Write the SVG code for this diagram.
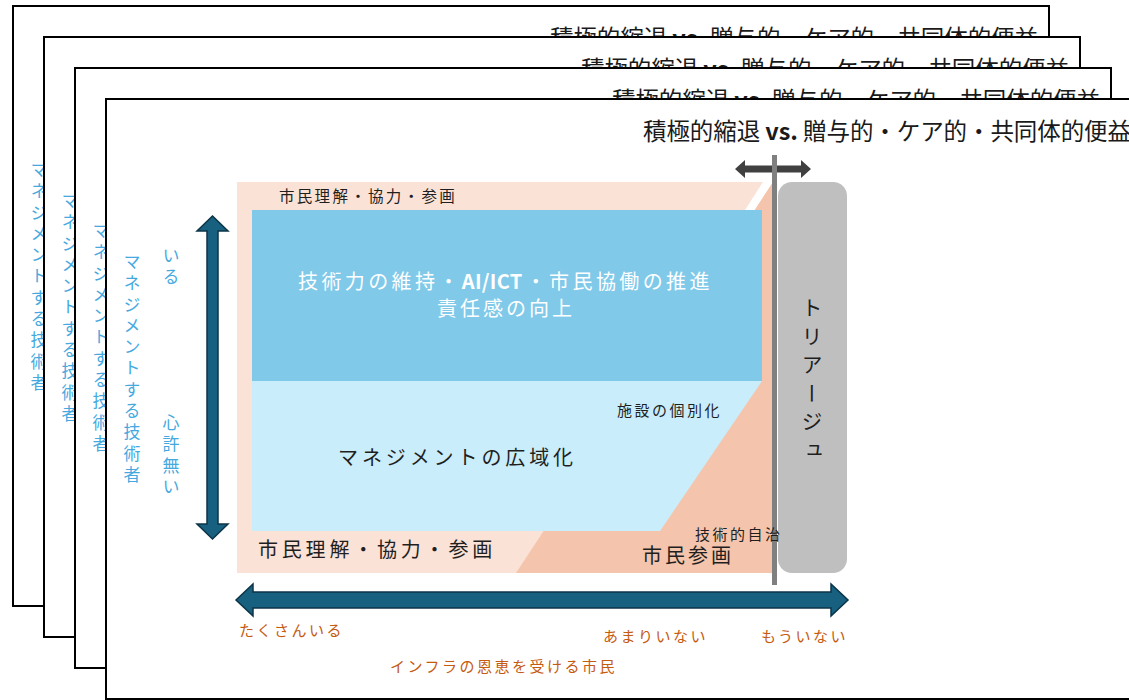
<svg xmlns="http://www.w3.org/2000/svg" width="1129" height="700" viewBox="0 0 1129 700">
<style>
  text { font-family: "Noto Sans CJK JP", "Noto Sans", sans-serif; }
  .frame { fill: #ffffff; stroke: #000000; stroke-width: 2; }
  .title { font-size: 23.5px; fill: #1a1a1a; }
  .vt { font-size: 17px; fill: #45A9DF; writing-mode: vertical-rl; letter-spacing: 4.3px; }
  .dark { fill: #1f1f1f; }
  .orange { font-size: 15px; fill: #C55A11; letter-spacing: 2.5px; }
  .bigarrow { fill: #17607F; stroke: #0C3447; stroke-width: 1.5; stroke-linejoin: miter; }
</style>

<!-- Stacked frames (back to front) -->
<g id="frame1">
  <rect class="frame" x="13" y="6" width="1036" height="600"/>
  <text class="title" x="550" y="47" textLength="488" lengthAdjust="spacing">積極的縮退 <tspan font-weight="bold">vs.</tspan> 贈与的・ケア的・共同体的便益</text>
  <text class="vt" x="39" y="161">マネジメントする技術者</text>
</g>
<g id="frame2">
  <rect class="frame" x="44" y="37" width="1036" height="600"/>
  <text class="title" x="581" y="78" textLength="488" lengthAdjust="spacing">積極的縮退 <tspan font-weight="bold">vs.</tspan> 贈与的・ケア的・共同体的便益</text>
  <text class="vt" x="70" y="192">マネジメントする技術者</text>
</g>
<g id="frame3">
  <rect class="frame" x="75" y="68" width="1036" height="600"/>
  <text class="title" x="612" y="109" textLength="488" lengthAdjust="spacing">積極的縮退 <tspan font-weight="bold">vs.</tspan> 贈与的・ケア的・共同体的便益</text>
  <text class="vt" x="101" y="222">マネジメントする技術者</text>
</g>
<g id="frame4">
  <rect class="frame" x="106" y="99" width="1036" height="600"/>
  <text class="title" x="643" y="140" textLength="488" lengthAdjust="spacing">積極的縮退 <tspan font-weight="bold">vs.</tspan> 贈与的・ケア的・共同体的便益</text>
  <text class="vt" x="132" y="253">マネジメントする技術者</text>
  <text class="vt" x="171" y="247">いる</text>
  <text class="vt" x="171" y="414">心許無い</text>
</g>

<!-- Zones -->
<g id="zone-citizen-understanding">
  <rect x="237" y="182" width="538" height="391" fill="#FBE2D6"/>
  <polygon points="763,182 773,182 755,210 745,210" fill="#ffffff"/>
  <text class="dark" x="279" y="202" font-size="15.5" letter-spacing="2.3">市民理解・協力・参画</text>
</g>
<g id="zone-citizen-participation">
  <polygon points="773,182 775,182 775,573 516,573" fill="#F4C5AC"/>
</g>
<g id="node-tech">
  <rect x="252" y="210" width="510" height="171" fill="#80C9E9"/>
  <text x="298" y="289" font-size="20" letter-spacing="3.4" fill="#ffffff">技術力の維持・<tspan font-weight="600" letter-spacing="0.3">AI/ICT</tspan><tspan dx="3">・市民協働の推進</tspan></text>
  <text x="437" y="316" font-size="20" letter-spacing="3" fill="#ffffff">責任感の向上</text>
</g>
<g id="node-mgmt">
  <polygon points="252,381 762,381 660,531 252,531" fill="#CAEDFB"/>
  <text class="dark" x="338" y="465" font-size="20" letter-spacing="3.9">マネジメントの広域化</text>
  <text class="dark" x="617" y="416" font-size="15" letter-spacing="2.5">施設の個別化</text>
</g>
<g id="label-bottom">
  <text class="dark" x="258" y="557" font-size="20" letter-spacing="3.8">市民理解・協力・参画</text>
  <text class="dark" x="642" y="563" font-size="20" letter-spacing="3">市民参画</text>
</g>
<g id="node-triage">
  <rect x="778" y="182" width="69" height="391" rx="14" ry="14" fill="#BFBFBF"/>
  <text class="dark" x="812" y="297" font-size="21" letter-spacing="7.5" style="writing-mode: vertical-rl;">トリアージュ</text>
</g>

<!-- Connectors / arrows -->
<g id="connectors">
  <polygon points="735,169 745,160 745,165.5 801,165.5 801,160 811,169 801,178 801,172.5 745,172.5 745,178" fill="#404040"/>
  <rect x="772" y="155" width="5" height="430" fill="#808080"/>
  <polygon class="bigarrow" points="212.5,216 228,231 218,231 218,524 228,524 212.5,539 197,524 207,524 207,231 197,231"/>
  <polygon class="bigarrow" points="236,600 253,584 253,592 831,592 831,584 848,600 831,616 831,608 253,608 253,616"/>
</g>

<g id="label-autonomy">
  <text class="dark" x="695" y="540" font-size="15" letter-spacing="2.5">技術的自治</text>
</g>

<g id="axis-labels">
  <text class="orange" x="239" y="636">たくさんいる</text>
  <text class="orange" x="603" y="642">あまりいない</text>
  <text class="orange" x="761" y="642">もういない</text>
  <text class="orange" x="390" y="672">インフラの恩恵を受ける市民</text>
</g>
</svg>
